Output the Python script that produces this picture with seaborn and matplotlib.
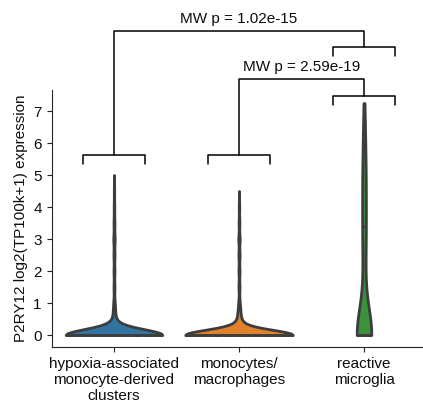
import numpy as np
import pandas as pd
import matplotlib
matplotlib.use("Agg")
import matplotlib.pyplot as plt
import seaborn as sns

categories = ["hypoxia-associated\nmonocyte-derived\nclusters",
              "monocytes/\nmacrophages",
              "reactive\nmicroglia"]

# expression levels and number of cells at each level
blue_values = [0.0, 0.2, 0.4, 0.7, 1.0, 1.5, 2.0, 2.5, 3.0, 3.5, 4.0, 4.5, 5.0]
blue_counts = [820, 40, 25, 15, 10, 8, 8, 9, 12, 8, 5, 3, 1]
orange_values = [0.0, 0.2, 0.4, 0.7, 1.0, 1.5, 2.0, 2.5, 3.0, 3.5, 4.0, 4.5]
orange_counts = [800, 45, 30, 18, 10, 8, 8, 9, 11, 6, 4, 1]
green_values = [0.0, 0.5, 1.0, 1.5, 2.0, 2.5, 3.0, 3.4, 4.0, 4.5, 5.0, 5.5, 6.0, 6.5, 7.0, 7.25]
green_counts = [88, 2, 2, 3, 4, 5, 6, 6, 6, 6, 6, 5, 4, 3, 2, 1]

pvalue_labels = ["MW p = 1.02e-15", "MW p = 2.59e-19"]
ylabel = "P2RY12 log2(TP100k+1) expression"

sns.set_style("ticks")
plt.rcParams["font.family"] = ["Liberation Sans", "DejaVu Sans"]
plt.rcParams["font.size"] = 11
plt.rcParams["text.color"] = "0.05"
plt.rcParams["xtick.color"] = "0.15"
plt.rcParams["ytick.color"] = "0.15"
plt.rcParams["xtick.labelcolor"] = "0.05"
plt.rcParams["ytick.labelcolor"] = "0.05"
plt.rcParams["axes.labelcolor"] = "0.05"

groups = [(blue_values, blue_counts), (orange_values, orange_counts), (green_values, green_counts)]
rows = []
for cat, (vals, cnts) in zip(categories, groups):
    for v in np.repeat(vals, cnts):
        rows.append((cat, v))
df = pd.DataFrame(rows, columns=["group", "expr"])

fig = plt.figure(figsize=(4.23, 4.05), dpi=100)
ax = fig.add_axes([51.5 / 423, 58 / 405, 375 / 423, 257 / 405])

palette = sns.color_palette("tab10", 3)
sns.violinplot(data=df, x="group", y="expr", hue="group", order=categories,
               palette=palette, cut=0, inner="quart", width=0.86,
               density_norm="area", common_norm=True,
               linewidth=2, legend=False, ax=ax)

ax.set_xlim(-0.5, 2.5)
ax.set_ylim(-0.375, 7.66)
ax.set_yticks(range(0, 8))
ax.set_xlabel("")
ax.set_ylabel(ylabel, fontsize=11)
ax.tick_params(labelsize=11)
sns.despine(ax=ax)

def bracket(x, y, h=0.27, hw=0.25):
    ax.plot([x - hw, x - hw, x + hw, x + hw], [y - h, y, y, y - h],
            color="black", lw=1.1, clip_on=False)

def link(x1, y1, x2, y_top, y2, label):
    ax.plot([x1, x1, x2, x2], [y1, y_top, y_top, y2], color="black", lw=1.1, clip_on=False)
    ax.text((x1 + x2) / 2, y_top + 0.15, label, ha="center", va="bottom", fontsize=11)

# comparison 1: cluster 0 vs reactive microglia
bracket(0, 5.625)
bracket(2, 9.0)
link(0, 5.625, 2, 9.5, 9.0, pvalue_labels[0])
# comparison 2: cluster 1 vs reactive microglia
bracket(1, 5.625)
bracket(2, 7.47)
link(1, 5.625, 2, 8.0, 7.47, pvalue_labels[1])

fig.savefig("out.png", dpi=100)
